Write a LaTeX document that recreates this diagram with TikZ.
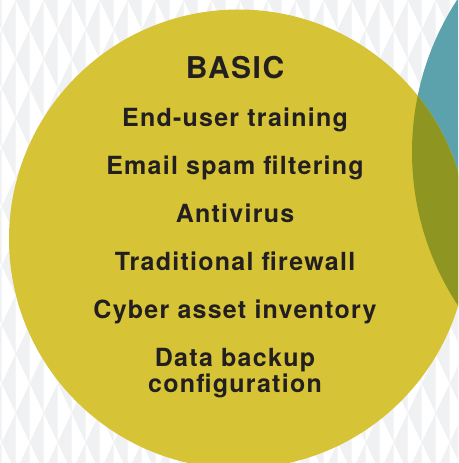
\documentclass[tikz,border=0pt]{standalone}
\usepackage{fontspec}
\newfontfamily\labelfont[LetterSpace=5]{TeX Gyre Heros}
\definecolor{bggray}{HTML}{F0F1F3}
\definecolor{basicyellow}{HTML}{D6C436}
\definecolor{ringteal}{HTML}{5CA2AD}
\definecolor{overlapolive}{HTML}{8F9521}
\definecolor{inkdark}{HTML}{231F20}
\tikzset{
  heading/.style={anchor=base,text=inkdark,font=\labelfont\bfseries\fontsize{30}{32}\selectfont},
  item/.style={anchor=base,text=inkdark,align=center,font=\labelfont\bfseries\fontsize{25}{26}\selectfont}
}
\begin{document}
\begin{tikzpicture}[x=1pt,y=-1pt]
  \useasboundingbox (0,0) rectangle (458,463);
  \clip (0,0) rectangle (458,463);
  % harlequin background
  \fill[white] (0,0) rectangle (458,463);
  \fill[bggray,even odd rule]
    \foreach \i in {-1,...,16} {(1.7+28*\i,-5) rectangle (15.7+28*\i,470)}
    \foreach \i in {-1,...,17} {
      \foreach \k in {0,...,8} {
        (1.7+28*\i-14,59*\k) -- (1.7+28*\i,59*\k-29.5) -- (1.7+28*\i+14,59*\k) -- (1.7+28*\i,59*\k+29.5) -- cycle
      }};
  % circles
  \coordinate (basiccentre) at (238.5,239);
  \coordinate (nextcentre) at (691,152);
  \fill[ringteal] (nextcentre) circle[radius=279];
  \fill[basicyellow] (basiccentre) circle[radius=229.5];
  \begin{scope}
    \clip (basiccentre) circle[radius=229.5];
    \fill[overlapolive] (nextcentre) circle[radius=279];
  \end{scope}
  % labels
  \node[heading] (title) at (235,78) {BASIC};
  \foreach \txt [count=\i] in {End-user training,Email spam filtering,Antivirus,Traditional firewall,Cyber asset inventory}
    \node[item] (item\i) at (235,78+48*\i) {\txt};
  \node[item] (item6) at (235,392) {Data backup\\configuration};
\end{tikzpicture}
\end{document}
